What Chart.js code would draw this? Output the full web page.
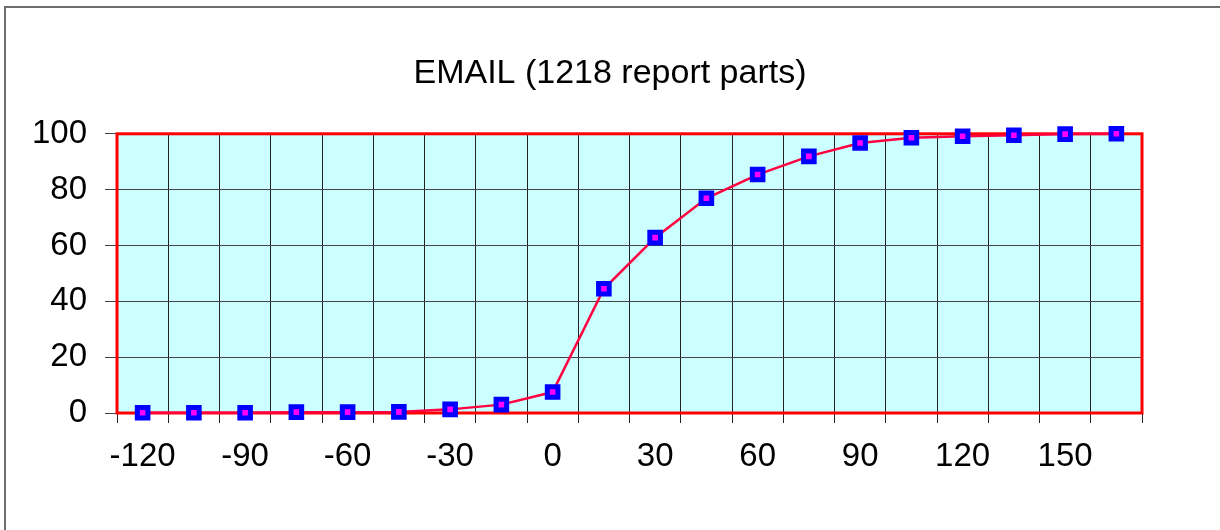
<!DOCTYPE html>
<html lang="en">
<head>
    <meta charset="UTF-8">
    <title>EMAIL (1218 report parts)</title>
    <script src="https://cdn.jsdelivr.net/npm/chart.js"></script>
    <style>
        body { margin: 0; background: #fff; overflow: hidden; }
        #wrap { position: relative; width: 1220px; height: 530px; }
        #frame {
            position: absolute; left: 4px; top: 6px; right: -10px; bottom: -10px;
            border-left: 2px solid #6e6e6e; border-top: 2px solid #6e6e6e;
            pointer-events: none;
        }
        canvas { position: absolute; left: 0; top: 0; }
    </style>
</head>
<body>

<div id="wrap">
    <canvas id="myChart" width="1220" height="530"></canvas>
    <div id="frame"></div>
</div>

<script>
    // minutes relative to deadline
    const minutes = [-120, -105, -90, -75, -60, -45, -30, -15, 0, 15, 30, 45, 60, 75, 90, 105, 120, 135, 150, 165];
    // cumulative percent of report parts
    const percentDone = [0.1, 0.1, 0.1, 0.3, 0.3, 0.4, 1.3, 3.0, 7.5, 44.5, 62.8, 76.9, 85.4, 91.9, 96.7, 98.6, 99.1, 99.5, 99.9, 100];
    const yTicks = [0, 20, 40, 60, 80, 100];

    const fontName = "'Liberation Sans', Arial, sans-serif";

    // cyan plot background + red frame around the plot area
    const plotArea = {
        id: "plotArea",
        beforeDraw(chart) {
            const a = chart.chartArea;
            const ctx = chart.ctx;
            ctx.save();
            ctx.fillStyle = "#ccffff";
            ctx.fillRect(a.left, a.top, a.right - a.left, a.bottom - a.top);
            ctx.restore();
        },
        beforeDatasetsDraw(chart) {
            const a = chart.chartArea;
            const ctx = chart.ctx;
            ctx.save();
            ctx.strokeStyle = "#ff0000";
            ctx.lineWidth = 3;
            ctx.strokeRect(a.left, a.top, a.right - a.left, a.bottom - a.top);
            ctx.restore();
        }
    };

    const chart = new Chart(document.getElementById("myChart"), {
        type: "line",
        data: {
            labels: minutes,
            datasets: [{
                label: "EMAIL",
                data: percentDone,
                borderColor: "#ff0040",
                borderWidth: 2.5,
                pointStyle: "rect",
                pointRadius: 7.5,
                pointBorderWidth: 5,
                pointBorderColor: "#0000ff",
                pointBackgroundColor: "#ff00ff",
                tension: 0,
                clip: false
            }]
        },
        options: {
            responsive: false,
            animation: false,
            layout: { padding: 0 },
            plugins: {
                legend: { display: false },
                tooltip: { enabled: false },
                title: {
                    display: true,
                    text: "EMAIL (1218 report parts)",
                    color: "#000",
                    font: { family: fontName, size: 34, weight: "normal" },
                    padding: { top: 53, bottom: 40 }
                }
            },
            scales: {
                x: {
                    type: "category",
                    offset: true,
                    afterFit(scale) { scale.height = 117; },
                    grid: {
                        offset: true,
                        color: "#222",
                        lineWidth: 1,
                        tickLength: 10
                    },
                    border: { display: false },
                    ticks: {
                        autoSkip: false,
                        maxRotation: 0,
                        padding: 14,
                        color: "#000",
                        font: { family: fontName, size: 33 },
                        callback: function (value, index) {
                            return index % 2 === 0 ? String(minutes[index]) : "";
                        }
                    }
                },
                y: {
                    min: 0,
                    max: 100,
                    afterFit(scale) { scale.width = 117; },
                    afterBuildTicks(scale) {
                        scale.ticks = yTicks.map(v => ({ value: v }));
                    },
                    grid: {
                        color: "#444",
                        lineWidth: 1,
                        tickLength: 12
                    },
                    border: { display: false },
                    ticks: {
                        padding: 18,
                        color: "#000",
                        font: { family: fontName, size: 33 }
                    }
                },
                // empty right-hand spacer so the title stays centred on the page
                yRight: {
                    position: "right",
                    min: 0,
                    max: 100,
                    afterFit(scale) { scale.width = 78; },
                    grid: { display: false, drawTicks: false },
                    border: { display: false },
                    ticks: { display: false }
                }
            }
        },
        plugins: [plotArea]
    });
</script>

</body>
</html>
